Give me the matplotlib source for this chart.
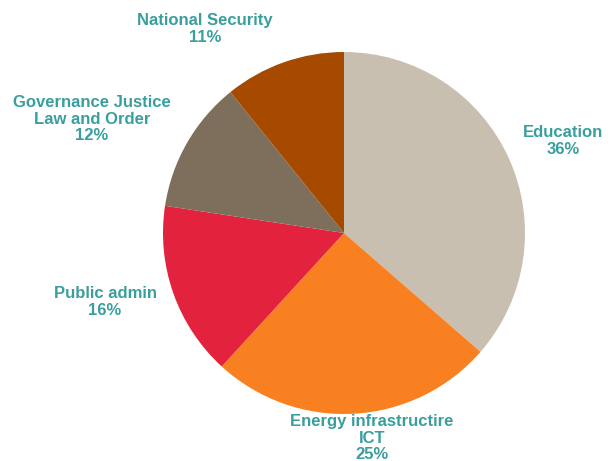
import matplotlib.pyplot as plt

# Slice data (clockwise from 12 o'clock)
sectors = ["Education", "Energy infrastructire\nICT", "Public admin",
           "Governance Justice\nLaw and Order", "National Security"]
shares = [36.4, 25.4, 15.6, 11.8, 10.8]
colors = ["#C9BFB0", "#F98020", "#E3223E", "#7E6F5D", "#A64A00"]

# Label anchor points in pixels (x, y from top)
label_pos = [(563, 141), (372, 438), (105, 302), (92, 119), (205, 29)]

W, H = 614, 461
fig = plt.figure(figsize=(W / 100, H / 100), dpi=100)
ax = fig.add_axes([0, 0, 1, 1])

ax.pie(
    shares,
    colors=colors,
    startangle=90,
    counterclock=False,
    center=(344, H - 233),
    radius=181,
    wedgeprops=dict(linewidth=0),
)
ax.set_xlim(0, W)
ax.set_ylim(0, H)
ax.set_aspect("auto")
ax.axis("off")

for name, pct, (x, y) in zip(sectors, shares, label_pos):
    ax.text(x, H - y, f"{name}\n{round(pct)}%", ha="center", va="center",
            fontsize=12, fontweight="bold", color="#3A9E9E",
            family="Liberation Sans", linespacing=1.1)

fig.savefig("out.png", dpi=100)
